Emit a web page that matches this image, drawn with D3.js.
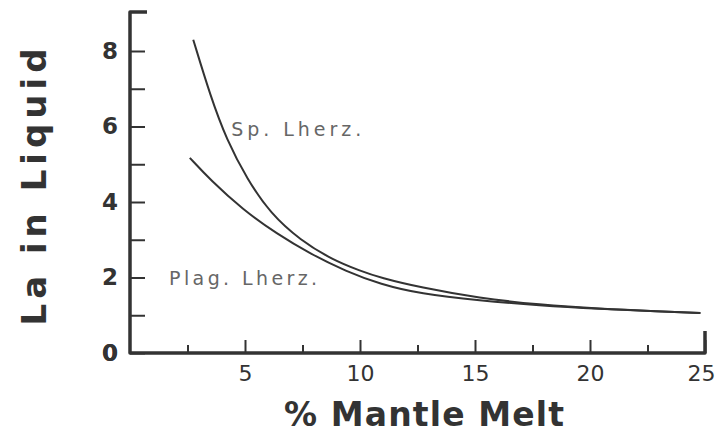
<!DOCTYPE html>
<html>
<head>
<meta charset="utf-8">
<script src="https://cdn.jsdelivr.net/npm/d3@7"></script>
<style>
  body { margin: 0; background: #fff; }
  svg { display: block; }
  .axis path, .axis line { stroke: #333; }
  .axis text { font-family: "DejaVu Sans", sans-serif; fill: #333; }
</style>
</head>
<body>
<svg id="chart"></svg>
<script>
// melt fraction (%) and La concentration
const spMelt  = [2.75, 3.5, 4.2, 5.1, 6.1, 7.4, 8.8, 10, 10.9, 12.6, 15.2, 17.8, 20.4, 23, 24.8];
const spLa    = [8.3, 6.8, 5.65, 4.6, 3.7, 2.99, 2.47, 2.18, 1.99, 1.74, 1.45, 1.28, 1.17, 1.1, 1.06];
const plagMelt = [2.6, 3.5, 4.9, 6.4, 7.8, 9.4, 10.9, 12.6, 15.2, 17.8, 20.4, 23, 24.8];
const plagLa   = [5.17, 4.58, 3.8, 3.15, 2.64, 2.16, 1.82, 1.57, 1.39, 1.26, 1.17, 1.1, 1.06];

const yTicks = [0, 1, 2, 3, 4, 5, 6, 7, 8];
const xMajor = [5, 10, 15, 20, 25];
const xMinor = [2.5, 7.5, 12.5, 17.5, 22.5];

const series = [
  {name: 'Sp. Lherz.', x: spMelt, y: spLa, lx: 4.4, ly: 5.75, len: 130},
  {name: 'Plag. Lherz.', x: plagMelt, y: plagLa, lx: 1.7, ly: 1.8, len: 148}
];

const width = 718, height = 436;
const svg = d3.select('#chart').attr('width', width).attr('height', height);

const xScale = d3.scaleLinear().domain([0, 25]).range([130, 705]);
const yScale = d3.scaleLinear().domain([0, 8]).range([353, 51]);

// y axis: ticks point inward, labels on even values only
const yAxisG = svg.append('g')
    .attr('class', 'axis')
    .attr('transform', `translate(${xScale(0)},0)`)
    .call(d3.axisLeft(yScale).tickValues(yTicks).tickSize(-15).tickPadding(12)
      .tickFormat(d => d % 2 === 0 ? d : ''));
yAxisG.select('.domain').remove();
yAxisG.selectAll('line').attr('stroke-width', 2);
yAxisG.selectAll('text').attr('font-size', 23).attr('font-weight', 'bold');

// x axis: ticks point up
const xAxisG = svg.append('g')
    .attr('class', 'axis')
    .attr('transform', `translate(0,${yScale(0)})`)
    .call(d3.axisBottom(xScale).tickValues(xMajor).tickSize(-13).tickPadding(12));
xAxisG.select('.domain').remove();
xAxisG.selectAll('line').attr('stroke-width', 2);
xAxisG.selectAll('text').attr('font-size', 22)
    .attr('dx', d => d === 25 ? -4 : 0);

svg.append('g')
    .attr('class', 'axis')
    .attr('transform', `translate(0,${yScale(0)})`)
    .call(d3.axisBottom(xScale).tickValues(xMinor).tickSize(-8).tickFormat(''))
  .call(g => g.select('.domain').remove())
  .selectAll('line').attr('stroke-width', 2);

// axis frame lines
const yTop = yScale(9.03);
svg.append('path')
    .attr('d', `M${xScale(0) + 17},${yTop}H${xScale(0)}V${yScale(0)}H${xScale(25)}V${yScale(0) - 22}`)
    .attr('fill', 'none')
    .attr('stroke', '#333')
    .attr('stroke-width', 3.5)
    .attr('stroke-linejoin', 'round');

// "0" at the origin
svg.append('text')
    .attr('x', xScale(0) - 12)
    .attr('y', yScale(0))
    .attr('dy', '0.35em')
    .attr('text-anchor', 'end')
    .attr('font-family', '"DejaVu Sans", sans-serif')
    .attr('font-size', 23)
    .attr('font-weight', 'bold')
    .attr('fill', '#333')
    .text('0');

// curves (basis spline smooths the hand-drawn readings)
const line = d3.line()
    .x(d => xScale(d[0]))
    .y(d => yScale(d[1]))
    .curve(d3.curveBasis);

svg.selectAll('.curve')
  .data(series)
  .join('path')
    .attr('class', 'curve')
    .attr('d', s => line(s.x.map((v, i) => [v, s.y[i]])))
    .attr('fill', 'none')
    .attr('stroke', '#333')
    .attr('stroke-width', 2);

svg.selectAll('.curve-label')
  .data(series)
  .join('text')
    .attr('class', 'curve-label')
    .attr('x', s => xScale(s.lx))
    .attr('y', s => yScale(s.ly))
    .attr('font-family', '"DejaVu Sans", sans-serif')
    .attr('font-size', 19)
    .attr('fill', '#666')
    .attr('textLength', s => s.len)
    .attr('lengthAdjust', 'spacing')
    .text(s => s.name);

// axis titles
svg.append('text')
    .attr('transform', `translate(46,187) rotate(-90)`)
    .attr('text-anchor', 'middle')
    .attr('font-family', '"DejaVu Sans", sans-serif')
    .attr('font-size', 34)
    .attr('font-weight', 'bold')
    .attr('fill', '#333')
    .attr('textLength', 277)
    .attr('lengthAdjust', 'spacing')
    .text('La in Liquid');

svg.append('text')
    .attr('x', 424)
    .attr('y', 426)
    .attr('text-anchor', 'middle')
    .attr('font-family', '"DejaVu Sans", sans-serif')
    .attr('font-size', 33)
    .attr('font-weight', 'bold')
    .attr('fill', '#333')
    .attr('textLength', 280)
    .attr('lengthAdjust', 'spacing')
    .text('% Mantle Melt');
</script>
</body>
</html>
